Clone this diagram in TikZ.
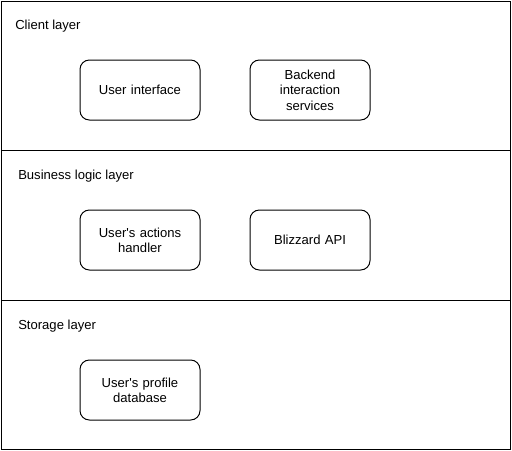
\documentclass[tikz,border=0pt]{standalone}
\usepackage{fontspec}
\setmainfont{Liberation Sans}
\usepackage{tikz}
\usetikzlibrary{positioning}
\tikzset{
  lyr/.style={draw,line width=0.75pt,minimum width=381.75pt,minimum height=112.5pt,inner sep=0pt,anchor=north west},
  lab/.style={anchor=west,inner sep=0pt,font=\fontsize{9.8}{11.5}\selectfont},
  bx/.style={draw,line width=0.75pt,rounded corners=7pt,minimum width=90pt,minimum height=45pt,text width=84pt,align=center,inner sep=0pt,font=\fontsize{9.8}{11.5}\selectfont}
}
\begin{document}
\begin{tikzpicture}[x=0.75pt,y=-0.75pt]
\useasboundingbox (0,0) rectangle (512,451);
% layers
\node[lyr,minimum height=111.75pt] (client) at (0.5,0.5) {};
\node[lyr] (logic) at (0.5,150) {};
\node[lyr,minimum height=111.75pt] (store) at (0.5,300) {};
\node[lab] (clientlab) at (15,26.5) {Client layer};
\node[lab] (logiclab) at (18,176.5) {Business logic layer};
\node[lab] (storelab) at (18,326.5) {Storage layer};
% components
\node[bx] (ui) at (140,90) {User interface};
\node[bx] (backend) at (310,90) {Backend\\interaction\\services};
\node[bx] (actions) at (140,240) {User\textquotesingle s actions\\handler};
\node[bx] (blizz) at (310,240) {Blizzard API};
\node[bx] (profile) at (140,390) {User\textquotesingle s profile\\database};
\end{tikzpicture}
\end{document}
